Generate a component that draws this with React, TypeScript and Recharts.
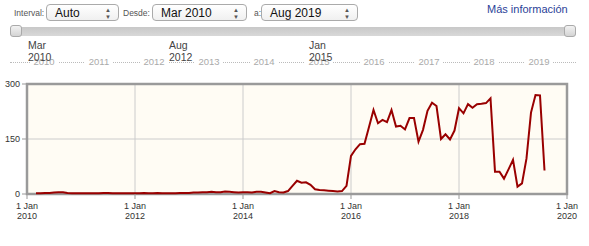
import React from 'react';
import { LineChart, Line, XAxis, YAxis, CartesianGrid, ReferenceArea } from 'recharts';

// monthly values, first point is Mar 2010
const startMonth = 2; // months after Jan 2010
const values2010 = [2, 2, 3, 3, 4, 5, 5, 3, 2, 2];
const values2011 = [2, 2, 2, 2, 2, 3, 3, 2, 2, 2, 2, 2];
const values2012 = [2, 2, 3, 2, 2, 3, 2, 2, 2, 2, 3, 3];
const values2013 = [3, 4, 4, 5, 5, 6, 5, 5, 7, 6, 5, 4];
const values2014 = [5, 5, 4, 6, 6, 4, 2, 8, 5, 4, 8, 22];
const values2015 = [36, 31, 32, 25, 13, 11, 10, 9, 8, 7, 8, 22];
const values2016 = [104, 122, 136, 137, 183, 229, 193, 202, 196, 229, 184, 186];
const values2017 = [176, 207, 207, 143, 175, 227, 249, 240, 150, 163, 149, 173];
const values2018 = [234, 220, 245, 235, 245, 246, 248, 261, 61, 61, 42, 67];
const values2019 = [93, 20, 29, 97, 222, 270, 269, 64];

const xTicks = [0, 24, 48, 72, 96, 120];
const yTicks = [0, 150, 300];
const sliderYears = ['2010', '2011', '2012', '2013', '2014', '2015', '2016', '2017', '2018', '2019'];
const sliderMarks = [
  { label: ['Mar', '2010'], x: 28 },
  { label: ['Aug', '2012'], x: 169 },
  { label: ['Jan', '2015'], x: 309 },
];

const allValues = [
  ...values2010, ...values2011, ...values2012, ...values2013, ...values2014,
  ...values2015, ...values2016, ...values2017, ...values2018, ...values2019,
];
const data = allValues.map((v, i) => ({ m: startMonth + i, value: v }));

const font = '"Liberation Sans", Arial, sans-serif';

const XTick = (props: any) => {
  const { x, y, payload } = props;
  const year = 2010 + Math.round(payload.value / 12);
  return (
    <g>
      <line x1={x} y1={y - 8} x2={x} y2={y - 3} stroke="#999" />
      <text x={x} y={y + 7} textAnchor="middle" fontSize={9} fill="#333" fontFamily={font}>
        <tspan x={x} dy={0}>1 Jan</tspan>
        <tspan x={x} dy={10}>{year}</tspan>
      </text>
    </g>
  );
};

const Select = ({ left, width, text }: { left: number; width: number; text: string }) => (
  <div
    style={{
      position: 'absolute', left, top: 4, width, height: 17,
      border: '1px solid #aaa', borderRadius: 4,
      background: 'linear-gradient(#fff, #f0f0f0)',
      fontSize: 12, lineHeight: '17px', color: '#111', boxSizing: 'border-box',
      paddingLeft: 8,
    }}
  >
    {text}
    <span style={{ position: 'absolute', right: 7, top: 0, fontSize: 6, lineHeight: '7px', color: '#555', paddingTop: 2 }}>
      ▲<br />▼
    </span>
  </div>
);

const Label = ({ left, text }: { left: number; text: string }) => (
  <div style={{ position: 'absolute', left, top: 8, fontSize: 8.5, color: '#555' }}>{text}</div>
);

export default function App() {
  return (
    <div style={{ position: 'absolute', left: 0, top: 0, width: 589, height: 246, background: '#fff', fontFamily: font, overflow: 'hidden' }}>
      <Label left={14} text="Interval:" />
      <Select left={46} width={73} text="Auto" />
      <Label left={123} text="Desde:" />
      <Select left={152} width={95} text="Mar 2010" />
      <Label left={254} text="a:" />
      <Select left={261} width={97} text="Aug 2019" />
      <div style={{ position: 'absolute', left: 487, top: 3, fontSize: 11, color: '#2b3f98' }}>Más información</div>

      <div style={{ position: 'absolute', left: 10, top: 27, width: 566, height: 9, background: 'linear-gradient(#c8c8c8, #d8d8d8)', borderRadius: 3 }} />
      <div style={{ position: 'absolute', left: 10, top: 25, width: 12, height: 12, background: 'linear-gradient(#f2f2f2, #d4d4d4)', border: '1px solid #aaa', borderRadius: 3, boxSizing: 'border-box' }} />
      <div style={{ position: 'absolute', left: 564, top: 25, width: 12, height: 12, background: 'linear-gradient(#f2f2f2, #d4d4d4)', border: '1px solid #aaa', borderRadius: 3, boxSizing: 'border-box' }} />

      <div style={{ position: 'absolute', left: 10, top: 62, width: 566, borderTop: '1px dotted #bbb' }} />
      {sliderYears.map((y, i) => (
        <div key={y} style={{ position: 'absolute', left: 30 + i * 55, top: 56, width: 22, textAlign: 'center', fontSize: 9.5, color: '#aaa', background: '#fff', padding: '0 3px' }}>
          {y}
        </div>
      ))}
      {sliderMarks.map((s) => (
        <div key={s.label[1]} style={{ position: 'absolute', left: s.x, top: 39, fontSize: 10.5, lineHeight: '12px', color: '#444' }}>
          {s.label[0]}<br />{s.label[1]}
        </div>
      ))}

      <div style={{ position: 'absolute', left: 0, top: 70 }}>
        <LineChart width={589} height={176} data={data} margin={{ top: 14, right: 22, left: 5, bottom: 0 }}>
          <CartesianGrid stroke="#ccc" fill="#fffcf4" />
          <XAxis
            dataKey="m"
            type="number"
            domain={[0, 120]}
            ticks={xTicks}
            axisLine={false}
            tickLine={false}
            height={52}
            tick={<XTick />}
            interval={0}
          />
          <YAxis
            domain={[0, 300]}
            ticks={yTicks}
            width={22}
            axisLine={false}
            tickLine={{ stroke: '#999' }}
            tickSize={5}
            tick={{ fontSize: 9, fill: '#333', fontFamily: font }}
            interval={0}
          />
          <Line
            type="linear"
            dataKey="value"
            stroke="#990000"
            strokeWidth={2}
            dot={false}
            isAnimationActive={false}
          />
          <ReferenceArea x1={0} x2={120} y1={0} y2={300} fill="none" stroke="#9a9a9a" strokeWidth={2.5} />
        </LineChart>
      </div>
    </div>
  );
}
